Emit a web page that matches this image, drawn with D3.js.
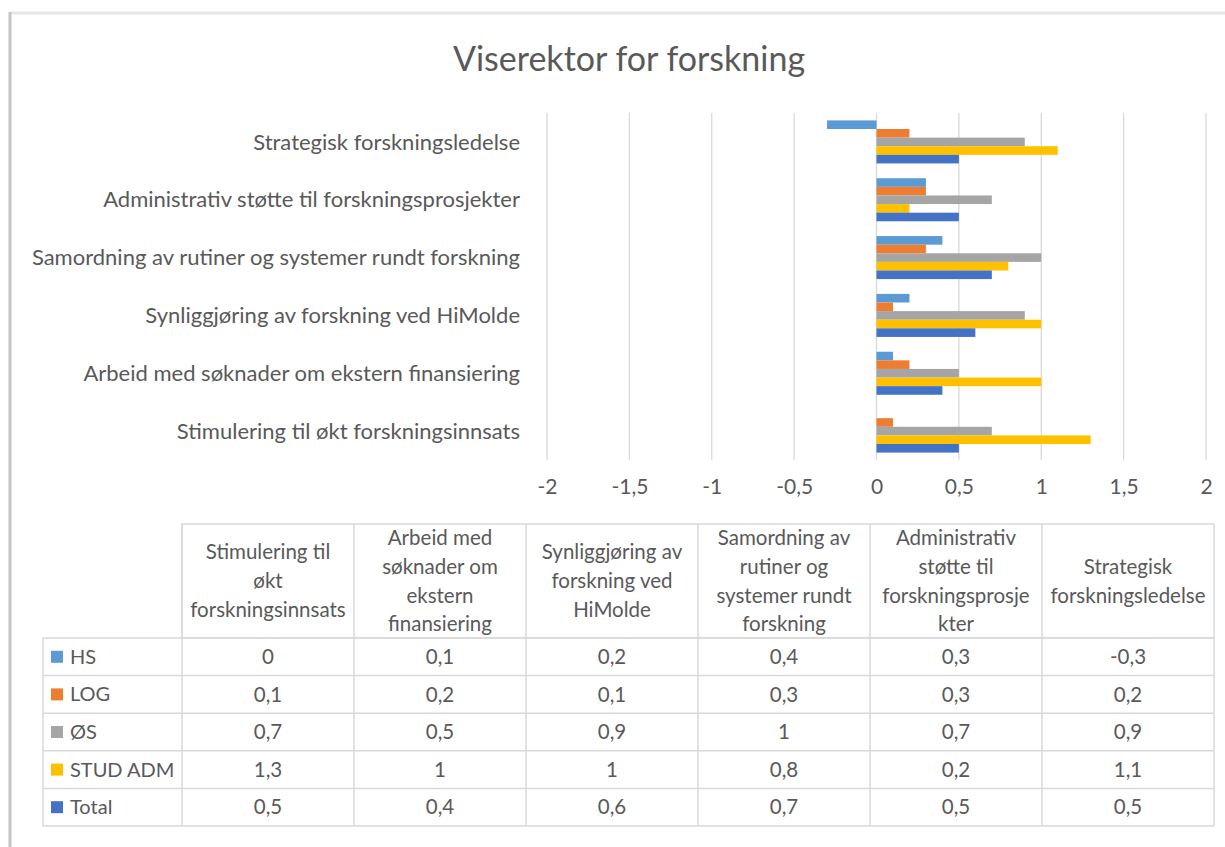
<!DOCTYPE html>
<html>
<head>
<meta charset="utf-8">
<script src="https://cdn.jsdelivr.net/npm/d3@7"></script>
<style>
  body { margin: 0; background: #fff; }
  text { font-family: Lato, "Open Sans", sans-serif; fill: #595959; }
</style>
</head>
<body>
<script>
// Viserektor for forskning - grouped horizontal bars + data table

var categories = [
  'Stimulering til økt forskningsinnsats',
  'Arbeid med søknader om ekstern finansiering',
  'Synliggjøring av forskning ved HiMolde',
  'Samordning av rutiner og systemer rundt forskning',
  'Administrativ støtte til forskningsprosjekter',
  'Strategisk forskningsledelse'
];
// how the table header wraps each category
var headerLines = [
  ['Stimulering til', 'økt', 'forskningsinnsats'],
  ['Arbeid med', 'søknader om', 'ekstern', 'finansiering'],
  ['Synliggjøring av', 'forskning ved', 'HiMolde'],
  ['Samordning av', 'rutiner og', 'systemer rundt', 'forskning'],
  ['Administrativ', 'støtte til', 'forskningsprosje', 'kter'],
  ['Strategisk', 'forskningsledelse']
];
var seriesNames = ['HS', 'LOG', 'ØS', 'STUD ADM', 'Total'];
var hs      = [0, 0.1, 0.2, 0.4, 0.3, -0.3];
var log     = [0.1, 0.2, 0.1, 0.3, 0.3, 0.2];
var os      = [0.7, 0.5, 0.9, 1, 0.7, 0.9];
var studAdm = [1.3, 1, 1, 0.8, 0.2, 1.1];
var total   = [0.5, 0.4, 0.6, 0.7, 0.5, 0.5];
var xTicks  = [-2, -1.5, -1, -0.5, 0, 0.5, 1, 1.5, 2];

var seriesValues = [hs, log, os, studAdm, total];
var colors = ['#5B9BD5', '#ED7D31', '#A5A5A5', '#FFC000', '#4472C4'];

var width = 1225;
var height = 847;

var svg = d3.select('body').append('svg')
    .attr('width', width)
    .attr('height', height);

function fmt(v) {
    return String(v).replace('.', ',');
}

// frame (only left and top edges are visible in the crop)
svg.append('line')
    .attr('x1', 10).attr('y1', 13).attr('x2', width).attr('y2', 13)
    .attr('stroke', '#e6e6e6').attr('stroke-width', 3);
svg.append('line')
    .attr('x1', 10).attr('y1', 12).attr('x2', 10).attr('y2', height)
    .attr('stroke', '#c4c4c4').attr('stroke-width', 3);

// title
svg.append('text')
    .attr('x', 629)
    .attr('y', 71)
    .attr('text-anchor', 'middle')
    .style('font-size', '34px')
    .text('Viserektor for forskning');

// scales
var x = d3.scaleLinear().domain([-2, 2]).range([547, 1206]);
var y = d3.scaleBand()
    .domain(categories.slice().reverse())
    .range([113, 460])
    .paddingInner(0.256)
    .paddingOuter(0.128);
var ySub = d3.scaleBand()
    .domain(seriesNames)
    .range([0, y.bandwidth()]);

// gridlines
svg.append('g').selectAll('line')
    .data(xTicks)
    .join('line')
    .attr('x1', d => x(d)).attr('x2', d => x(d))
    .attr('y1', 113).attr('y2', 460)
    .attr('stroke', '#d9d9d9')
    .attr('stroke-width', 1.3);

// x tick labels
var xAxis = d3.axisBottom(x).tickValues(xTicks).tickFormat(fmt).tickSize(0).tickPadding(0);
var gx = svg.append('g').attr('transform', 'translate(0,479)').call(xAxis);
gx.select('.domain').remove();
gx.selectAll('text')
    .style('font-size', '21px')
    .style('font-family', 'Lato, sans-serif')
    .attr('fill', '#595959');

// category labels
svg.append('g').selectAll('text')
    .data(categories)
    .join('text')
    .attr('x', 520)
    .attr('y', d => y(d) + y.bandwidth() / 2)
    .attr('dy', '0.35em')
    .attr('text-anchor', 'end')
    .style('font-size', '22px')
    .text(d => d);

// bars
seriesNames.forEach(function (name, s) {
    svg.append('g').selectAll('rect')
        .data(categories.map((c, i) => ({ c: c, v: seriesValues[s][i] })))
        .join('rect')
        .attr('x', d => x(Math.min(0, d.v)))
        .attr('y', d => y(d.c) + ySub(name))
        .attr('width', d => Math.abs(x(d.v) - x(0)))
        .attr('height', ySub.bandwidth())
        .attr('fill', colors[s]);
});

// data table
var col = d3.scaleBand().domain(categories).range([182, 1214]);
var row = d3.scaleBand().domain(seriesNames).range([638, 826]);
var headTop = 524;
var legendLeft = 43;
var tableStroke = '#d9d9d9';

var grid = svg.append('g').attr('stroke', tableStroke).attr('stroke-width', 1.5);
// header row
grid.append('rect')
    .attr('x', 182).attr('y', headTop)
    .attr('width', 1214 - 182).attr('height', 638 - headTop)
    .attr('fill', 'none');
// body
grid.append('rect')
    .attr('x', legendLeft).attr('y', 638)
    .attr('width', 1214 - legendLeft).attr('height', 826 - 638)
    .attr('fill', 'none');
grid.selectAll('line.v')
    .data(categories)
    .join('line')
    .attr('x1', d => col(d)).attr('x2', d => col(d))
    .attr('y1', headTop).attr('y2', 826);
grid.selectAll('line.h')
    .data(seriesNames.slice(1))
    .join('line')
    .attr('x1', legendLeft).attr('x2', 1214)
    .attr('y1', d => row(d)).attr('y2', d => row(d));

// header text
var lineH = 28.8;
var headMid = 581;
categories.forEach(function (c, i) {
    var lines = headerLines[i];
    var t = svg.append('text')
        .attr('text-anchor', 'middle')
        .style('font-size', '20.5px');
    lines.forEach(function (ln, k) {
        t.append('tspan')
            .attr('x', col(c) + col.bandwidth() / 2)
            .attr('y', headMid + (k - (lines.length - 1) / 2) * lineH)
            .attr('dy', '0.35em')
            .text(ln);
    });
});

// legend column
seriesNames.forEach(function (name, s) {
    var cy = row(name) + row.bandwidth() / 2;
    svg.append('rect')
        .attr('x', 51).attr('y', cy - 6)
        .attr('width', 12).attr('height', 12)
        .attr('fill', colors[s]);
    svg.append('text')
        .attr('x', 70).attr('y', cy)
        .attr('dy', '0.35em')
        .style('font-size', '20px')
        .text(name);
    // values
    svg.append('g').selectAll('text')
        .data(categories.map((c, i) => ({ c: c, v: seriesValues[s][i] })))
        .join('text')
        .attr('x', d => col(d.c) + col.bandwidth() / 2)
        .attr('y', cy)
        .attr('dy', '0.35em')
        .attr('text-anchor', 'middle')
        .style('font-size', '20.5px')
        .text(d => fmt(d.v));
});
</script>
</body>
</html>
